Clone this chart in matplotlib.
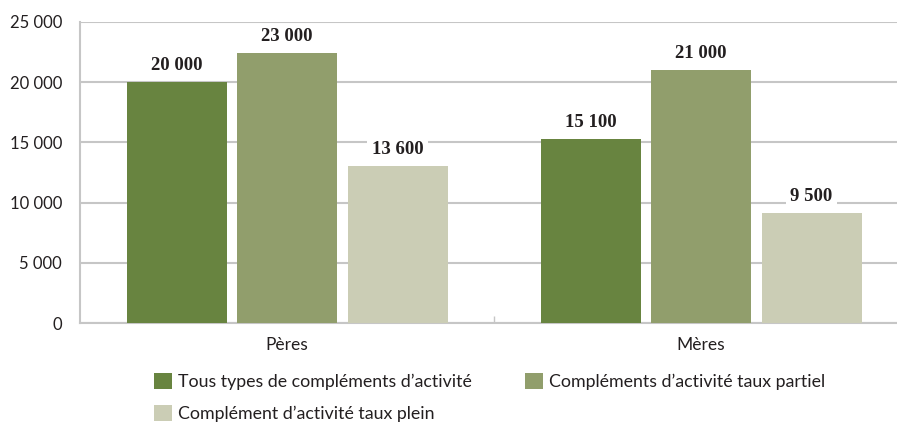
import matplotlib
matplotlib.use("Agg")
import matplotlib.pyplot as plt
import numpy as np
from matplotlib.patches import Patch
from matplotlib.ticker import FuncFormatter, FixedLocator

categories = ["Pères", "Mères"]
series_names = [
    "Tous types de compléments d’activité",
    "Compléments d’activité taux partiel",
    "Complément d’activité taux plein",
]
tous_types = [20000, 15300]
taux_partiel = [22400, 21000]
taux_plein = [13050, 9150]
label_tous = ["20 000", "15 100"]
label_partiel = ["23 000", "21 000"]
label_plein = ["13 600", "9 500"]
yticks = [0, 5000, 10000, 15000, 20000, 25000]

colors = ["#688440", "#919e6c", "#cbcdb5"]
text_col = "#231f20"
grid_col = "#c6c6c6"
sans = ["Lato", "DejaVu Sans"]
serif = ["Liberation Serif", "DejaVu Serif"]

W, H = 897, 425
fig = plt.figure(figsize=(W / 100, H / 100), dpi=100)
ax = fig.add_axes([80 / W, 1 - 323 / H, (908 - 80) / W, (323 - 22) / H])

x = np.arange(len(categories))
bw = 100 / 414
off = 110.5 / 414
series = [tous_types, taux_partiel, taux_plein]
labels = [label_tous, label_partiel, label_plein]
for i, (vals, labs) in enumerate(zip(series, labels)):
    pos = x + (i - 1) * off
    ax.bar(pos, vals, width=bw, color=colors[i], zorder=3)
    for px, v, lab in zip(pos, vals, labs):
        ax.annotate(lab, (px, v), xytext=(0, 8.5), textcoords="offset points",
                    ha="center", va="baseline", fontsize=13.5, fontweight="bold",
                    family=serif, color=text_col, zorder=4,
                    bbox=dict(boxstyle="square,pad=0.25", fc="white", ec="none"))

ax.set_xlim(-0.5, 1.5)
ax.set_ylim(0, 25000)
ax.yaxis.set_major_locator(FixedLocator(yticks))
ax.yaxis.set_major_formatter(FuncFormatter(lambda v, p: f"{int(v):,}".replace(",", " ")))
ax.grid(axis="y", color=grid_col, linewidth=1.5, zorder=0)
ax.set_axisbelow(True)
for s in ["top", "right"]:
    ax.spines[s].set_visible(False)
for s in ["left", "bottom"]:
    ax.spines[s].set_color(grid_col)
    ax.spines[s].set_linewidth(1.5)
ax.tick_params(axis="y", length=0, pad=13, labelsize=12, labelcolor=text_col)
ax.set_xticks(x)
ax.set_xticklabels(categories)
ax.tick_params(axis="x", which="major", length=0, pad=10, labelsize=12.5, labelcolor=text_col)
ax.set_xticks([0.5], minor=True)
ax.tick_params(axis="x", which="minor", direction="in", length=5, width=1, color=grid_col)
for lab in ax.get_xticklabels() + ax.get_yticklabels():
    lab.set_family(sans)

# column-first fill: col1 = first two handles, col2 = third
order = [0, 2, 1]
handles = [Patch(facecolor=colors[k], edgecolor="none") for k in order]
names = [series_names[k] for k in order]
fig.legend(handles, names, loc="upper left", bbox_to_anchor=(154 / W, 1 - 373 / H),
           ncol=2, frameon=False, prop={"family": sans, "size": 12.8},
           handlelength=1.0, handleheight=1.0, handletextpad=0.35,
           labelspacing=0.85, columnspacing=3.0, borderpad=0, borderaxespad=0,
           labelcolor=text_col)

fig.savefig("out.png", dpi=100)
